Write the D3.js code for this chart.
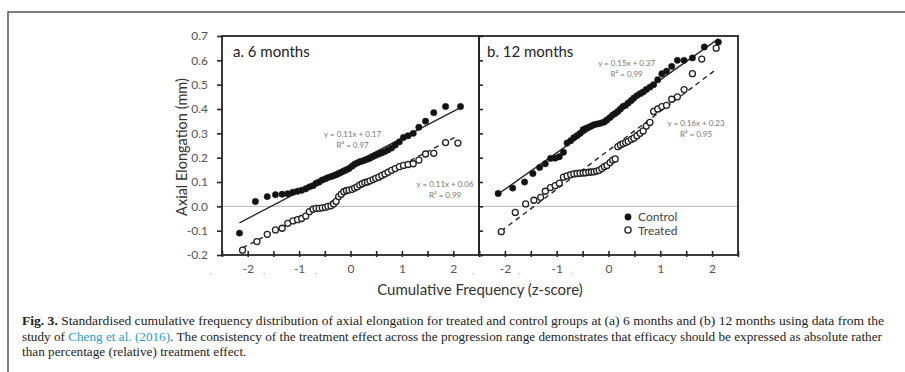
<!DOCTYPE html>
<html><head><meta charset="utf-8">
<script src="https://cdn.jsdelivr.net/npm/d3@7"></script>
<style>body{margin:0;background:#fff}svg{display:block}</style>
</head><body>
<svg id="c" width="905" height="372"></svg>
<script>
// ---------- data ----------
const zA_control = [-2.16,-1.85,-1.62,-1.46,-1.33,-1.22,-1.12,-1.03,-0.95,-0.87,-0.80,-0.73,-0.67,-0.61,-0.55,-0.49,-0.44,-0.38,-0.33,-0.28,-0.23,-0.18,-0.13,-0.08,-0.03,0.03,0.08,0.13,0.18,0.23,0.28,0.33,0.38,0.44,0.49,0.55,0.61,0.67,0.73,0.80,0.87,0.95,1.03,1.12,1.22,1.33,1.46,1.62,1.85,2.14];
const vA_control = [-0.11,0.02,0.04,0.048,0.05,0.052,0.058,0.062,0.066,0.072,0.08,0.085,0.095,0.10,0.108,0.113,0.118,0.122,0.126,0.13,0.135,0.14,0.145,0.15,0.155,0.165,0.173,0.178,0.183,0.186,0.19,0.194,0.198,0.205,0.21,0.215,0.22,0.225,0.232,0.24,0.252,0.265,0.283,0.29,0.30,0.325,0.35,0.385,0.41,0.41];
const zA_treated = [-2.10,-1.82,-1.62,-1.46,-1.33,-1.22,-1.12,-1.03,-0.95,-0.87,-0.80,-0.73,-0.67,-0.61,-0.55,-0.49,-0.44,-0.38,-0.33,-0.28,-0.23,-0.18,-0.13,-0.08,-0.03,0.03,0.08,0.13,0.18,0.23,0.28,0.33,0.38,0.44,0.49,0.55,0.61,0.67,0.73,0.80,0.87,0.95,1.03,1.12,1.22,1.33,1.46,1.62,1.85,2.09];
const vA_treated = [-0.18,-0.145,-0.115,-0.097,-0.09,-0.07,-0.06,-0.055,-0.05,-0.04,-0.022,-0.012,-0.008,-0.008,-0.006,-0.004,0.0,0.002,0.01,0.02,0.04,0.05,0.06,0.065,0.067,0.07,0.075,0.08,0.088,0.093,0.098,0.10,0.105,0.11,0.115,0.12,0.127,0.133,0.14,0.148,0.155,0.163,0.168,0.172,0.175,0.19,0.215,0.218,0.262,0.26];
const zB_control = [-2.13,-1.85,-1.62,-1.46,-1.33,-1.22,-1.12,-1.03,-0.95,-0.87,-0.80,-0.73,-0.67,-0.61,-0.55,-0.49,-0.44,-0.38,-0.33,-0.28,-0.23,-0.18,-0.13,-0.08,-0.03,0.03,0.08,0.13,0.18,0.23,0.28,0.33,0.38,0.44,0.49,0.55,0.61,0.67,0.73,0.80,0.87,0.95,1.03,1.12,1.22,1.33,1.46,1.62,1.85,2.12];
const vB_control = [0.053,0.075,0.10,0.135,0.16,0.175,0.197,0.198,0.204,0.222,0.26,0.27,0.282,0.29,0.30,0.315,0.32,0.325,0.33,0.335,0.338,0.34,0.343,0.347,0.355,0.365,0.375,0.382,0.39,0.40,0.41,0.415,0.425,0.435,0.445,0.455,0.463,0.47,0.48,0.49,0.50,0.52,0.545,0.555,0.575,0.60,0.60,0.61,0.655,0.675];
const zB_treated = [-2.07,-1.80,-1.60,-1.44,-1.31,-1.22,-1.12,-1.03,-0.95,-0.87,-0.80,-0.73,-0.67,-0.61,-0.55,-0.49,-0.44,-0.38,-0.33,-0.28,-0.23,-0.18,-0.13,-0.08,-0.03,0.03,0.08,0.13,0.18,0.23,0.28,0.33,0.38,0.44,0.49,0.55,0.61,0.67,0.73,0.80,0.87,0.95,1.03,1.12,1.22,1.33,1.46,1.62,1.80,2.08];
const vB_treated = [-0.104,-0.025,0.01,0.025,0.037,0.062,0.077,0.085,0.095,0.12,0.125,0.13,0.133,0.135,0.136,0.137,0.138,0.14,0.141,0.142,0.145,0.148,0.155,0.163,0.168,0.18,0.19,0.195,0.245,0.252,0.258,0.262,0.267,0.275,0.28,0.29,0.30,0.31,0.33,0.345,0.39,0.40,0.41,0.415,0.44,0.45,0.48,0.545,0.605,0.65];

// fitted lines: [slope, intercept]
const fitA_control = [0.11, 0.17];
const fitA_treated = [0.11, 0.06];
const fitB_control = [0.15, 0.37];
const fitB_treated = [0.16, 0.23];
const eqA_control = ["y = 0.11x + 0.17", "R² = 0.97"];
const eqA_treated = ["y = 0.11x + 0.06", "R² = 0.99"];
const eqB_control = ["y = 0.15x + 0.37", "R² = 0.99"];
const eqB_treated = ["y = 0.16x + 0.23", "R² = 0.95"];

const panelTitles = ["a. 6 months", "b. 12 months"];
const seriesNames = ["Control", "Treated"];
const yTicks = [-0.2,-0.1,0.0,0.1,0.2,0.3,0.4,0.5,0.6,0.7];
const yTickLabels = ["-0.2","-0.1","0.0","0.1","0.2","0.3","0.4","0.5","0.6","0.7"];
const xTicks = [-2.5,-2,-1.5,-1,-0.5,0,0.5,1,1.5,2,2.5];
const xTickLabels = ["-2","-1","0","1","2"];
const yTitle = "Axial Elongation (mm)";
const xTitle = "Cumulative Frequency (z-score)";

// ---------- drawing ----------
const svg = d3.select("#c");
const INK = "#262626";

// outer frame
svg.append("path").attr("d","M8,372 V12 H905").attr("fill","none").attr("stroke","#555").attr("stroke-width",1.5);

const y = d3.scaleLinear().domain([-0.2,0.7]).range([255,36]);
const xA = d3.scaleLinear().domain([-2.5,2.5]).range([222,479]);
const xB = d3.scaleLinear().domain([-2.5,2.5]).range([479,738]);

// zero reference line
svg.append("line").attr("x1",222).attr("x2",738).attr("y1",y(0)).attr("y2",y(0))
  .attr("stroke","#b5b5b5").attr("stroke-width",1);

function xAxis(x){
  const g = svg.append("g").attr("transform",`translate(0,${y(-0.2)})`)
    .call(d3.axisBottom(x).tickValues(xTicks).tickSizeInner(-4).tickSizeOuter(0).tickPadding(11)
      .tickFormat(d => xTickLabels.includes(String(d)) ? String(d) : ""));
  g.select(".domain").remove();
  g.selectAll(".tick line").attr("y1",2).attr("stroke",INK).attr("stroke-width",1.6);
  g.selectAll(".tick text").attr("font-family","Lato, 'Open Sans', sans-serif").attr("font-size",12).attr("fill","#555").attr("dy","0.6em");
  return g;
}
xAxis(xA); xAxis(xB);

// y axis (panel a, outward ticks with labels)
const ya = svg.append("g").attr("transform","translate(222,0)")
  .call(d3.axisLeft(y).tickValues(yTicks).tickSizeInner(5).tickSizeOuter(0).tickPadding(9)
    .tickFormat((d,i) => yTickLabels[i]));
ya.select(".domain").remove();
ya.selectAll(".tick line").attr("stroke",INK).attr("stroke-width",1.6);
ya.selectAll(".tick text").attr("font-family","Lato, 'Open Sans', sans-serif").attr("font-size",12).attr("fill","#555");

// y axis ticks for panel b (inward)
const yb = svg.append("g").attr("transform","translate(479,0)")
  .call(d3.axisRight(y).tickValues(yTicks).tickSizeInner(4).tickSizeOuter(0).tickFormat(""));
yb.select(".domain").remove();
yb.selectAll(".tick line").attr("stroke",INK).attr("stroke-width",1.6);

// panel frames
[xA,xB].forEach(x=>{
  svg.append("rect").attr("x",x.range()[0]).attr("y",y(0.7))
    .attr("width",x.range()[1]-x.range()[0]).attr("height",y(-0.2)-y(0.7))
    .attr("fill","none").attr("stroke",INK).attr("stroke-width",1.8);
});

// faint half-tick artefact dots under x axis
[[xA,-2.72],[xA,-1.68],[xA,-0.67],[xA,2.38],[xB,-1.72],[xB,-0.7]].forEach(([x,v])=>{
  svg.append("text").attr("x",x(v)).attr("y",276).attr("text-anchor","middle")
    .attr("font-size",10).attr("fill","#bbb").attr("font-family","Lato, sans-serif").text("·");
});

function fitLine(x, fit, zs, dashed){
  const [m,b] = fit;
  const ext = d3.extent(zs);
  svg.append("line").attr("x1",x(ext[0])).attr("y1",y(m*ext[0]+b))
    .attr("x2",x(ext[1])).attr("y2",y(m*ext[1]+b))
    .attr("stroke",INK).attr("stroke-width",1.4)
    .attr("stroke-dasharray",dashed?"5,4":null);
}
function points(x, zs, vs, filled){
  svg.append("g").selectAll("circle").data(zs.map((z,i)=>[z,vs[i]])).join("circle")
    .attr("cx",d=>x(d[0])).attr("cy",d=>y(d[1])).attr("r",filled?3.2:3)
    .attr("fill",filled?"#111":"#fff").attr("stroke","#222").attr("stroke-width",filled?0.5:1.3);
}
fitLine(xA, fitA_treated, zA_treated, true);
fitLine(xB, fitB_treated, zB_treated, true);
points(xA, zA_treated, vA_treated, false);
points(xB, zB_treated, vB_treated, false);
fitLine(xA, fitA_control, zA_control, false);
fitLine(xB, fitB_control, zB_control, false);
points(xA, zA_control, vA_control, true);
points(xB, zB_control, vB_control, true);

// equation labels
function eq(x, zc, vc, lines){
  lines.forEach((t,i)=>{
    svg.append("text").attr("x",x(zc)).attr("y",y(vc)+i*11).attr("text-anchor","middle")
      .attr("font-family","Lato, 'Open Sans', sans-serif").attr("font-size",8).attr("fill","#777").text(t);
  });
}
eq(xA, 0.04, 0.285, eqA_control);
eq(xA, 1.84, 0.08, eqA_treated);
eq(xB, 0.35, 0.575, eqB_control);
eq(xB, 1.69, 0.33, eqB_treated);

// panel titles
svg.append("text").attr("x",233).attr("y",57).attr("font-family","Lato, 'Open Sans', sans-serif")
  .attr("font-size",15).attr("fill","#222").text(panelTitles[0]);
svg.append("text").attr("x",487).attr("y",57).attr("font-family","Lato, 'Open Sans', sans-serif")
  .attr("font-size",15).attr("fill","#222").text(panelTitles[1]);

// legend
const lg = svg.append("g").attr("font-family","Lato, 'Open Sans', sans-serif").attr("font-size",12).attr("fill","#444");
lg.append("circle").attr("cx",628).attr("cy",217).attr("r",3.4).attr("fill","#111");
lg.append("text").attr("x",638).attr("y",217).attr("dy","0.35em").text(seriesNames[0]);
lg.append("circle").attr("cx",628).attr("cy",230).attr("r",3.1).attr("fill","#fff").attr("stroke","#222").attr("stroke-width",1.3);
lg.append("text").attr("x",638).attr("y",230.5).attr("dy","0.35em").text(seriesNames[1]);

// axis titles
svg.append("text").attr("transform","translate(187,147) rotate(-90)").attr("text-anchor","middle")
  .attr("font-family","Lato, 'Open Sans', sans-serif").attr("font-size",14.5).attr("fill","#333").text(yTitle);
svg.append("text").attr("x",480).attr("y",295).attr("text-anchor","middle")
  .attr("font-family","Lato, 'Open Sans', sans-serif").attr("font-size",15).attr("fill","#333").text(xTitle);

// caption
const cap = svg.append("g").attr("font-family","'Liberation Serif', 'DejaVu Serif', serif").attr("font-size",11.5).attr("fill","#222");
const l1 = cap.append("text").attr("x",22).attr("y",325).attr("textLength",862).attr("lengthAdjust","spacingAndGlyphs");
l1.append("tspan").attr("font-weight","bold").text("Fig. 3.");
l1.append("tspan").text(" Standardised cumulative frequency distribution of axial elongation for treated and control groups at (a) 6 months and (b) 12 months using data from the");
const l2 = cap.append("text").attr("x",22).attr("y",341).attr("textLength",860).attr("lengthAdjust","spacingAndGlyphs");
l2.append("tspan").text("study of ");
l2.append("tspan").attr("fill","#2a9ad6").text("Cheng et al. (2016)");
l2.append("tspan").text(". The consistency of the treatment effect across the progression range demonstrates that efficacy should be expressed as absolute rather");
const l3 = cap.append("text").attr("x",22).attr("y",356).text("than percentage (relative) treatment effect.");
// match horizontal scale of line 3 to line 2
const t2 = svg.append("text").attr("font-family","'Liberation Serif', serif").attr("font-size",11.5)
  .text("study of Cheng et al. (2016). The consistency of the treatment effect across the progression range demonstrates that efficacy should be expressed as absolute rather");
const k = 860 / t2.node().getComputedTextLength();
t2.remove();
const w3 = l3.node().getComputedTextLength();
l3.attr("textLength", w3*k).attr("lengthAdjust","spacingAndGlyphs");
</script>
</body></html>
